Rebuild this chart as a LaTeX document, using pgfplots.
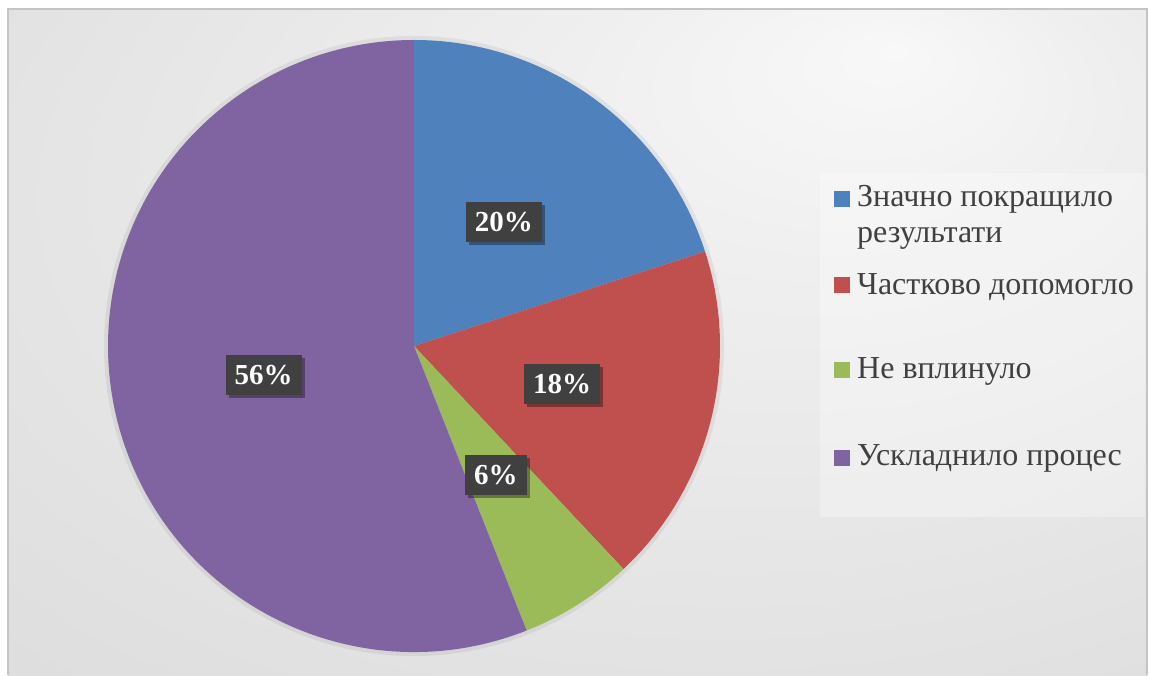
\documentclass[border=0pt]{standalone}
\usepackage{fontspec}
\setmainfont{Liberation Serif}
\usepackage{pgfplots}
\usepackage{pgfplotstable}
\pgfplotsset{compat=1.18}
\usetikzlibrary{shadows}

\definecolor{sliceA}{HTML}{4F81BD}
\definecolor{sliceB}{HTML}{C0504D}
\definecolor{sliceC}{HTML}{9BBB59}
\definecolor{sliceD}{HTML}{8064A2}
\definecolor{labelbg}{HTML}{404040}
\definecolor{legtext}{HTML}{404040}
\definecolor{framecol}{HTML}{C4C4C4}
\definecolor{bgA}{HTML}{F8F8F8}
\definecolor{bgB}{HTML}{EFEFEF}
\definecolor{bgC}{HTML}{E2E2E2}
\definecolor{bgD}{HTML}{D4D4D4}

\pgfdeclareradialshading{bgshade}{\pgfpoint{14bp}{22bp}}{%
  color(0bp)=(bgA); color(12bp)=(bgB); color(35bp)=(bgC); color(60bp)=(bgD)}

% share of answers, percent
\pgfplotstableread{
idx value
0 20
1 18
2 6
3 56
}\piedata

\pgfplotstablegetelem{0}{value}\of\piedata\edef\vA{\pgfplotsretval}
\pgfplotstablegetelem{1}{value}\of\piedata\edef\vB{\pgfplotsretval}
\pgfplotstablegetelem{2}{value}\of\piedata\edef\vC{\pgfplotsretval}
\pgfplotstablegetelem{3}{value}\of\piedata\edef\vD{\pgfplotsretval}

\pgfmathsetmacro\sA{90}
\pgfmathsetmacro\eA{\sA-3.6*\vA}
\pgfmathsetmacro\eB{\eA-3.6*\vB}
\pgfmathsetmacro\eC{\eB-3.6*\vC}
\pgfmathsetmacro\eD{\eC-3.6*\vD}
\pgfmathsetmacro\mA{(\sA+\eA)/2}
\pgfmathsetmacro\mB{(\eA+\eB)/2}
\pgfmathsetmacro\mC{(\eB+\eC)/2}
\pgfmathsetmacro\mD{(\eC+\eD)/2}

\tikzset{
  pielabel/.style={fill=labelbg, text=white,
    font=\bfseries\fontsize{29}{29}\selectfont,
    inner xsep=9pt, inner ysep=0pt, minimum height=40pt,
    drop shadow={shadow xshift=3pt, shadow yshift=-3pt, opacity=0.35, fill=black}},
  legtxt/.style={anchor=base west, inner sep=0pt, text=legtext,
    font=\fontsize{32}{36}\selectfont}
}

\begin{document}
\begin{tikzpicture}
\begin{axis}[
  x=1pt, y=1pt,
  xmin=0, xmax=1149, ymin=0, ymax=675,
  hide axis, clip=false,
  at={(0,0)}, anchor=south west,
]
% background and frame
\fill[shading=bgshade] (axis cs:8,0) rectangle (axis cs:1147,666);
\draw[framecol, line width=2pt] (axis cs:8,0) -- (axis cs:8,666) -- (axis cs:1147,666) -- (axis cs:1147,0);

% pie
\fill[black, opacity=0.06] (axis cs:414,329) circle[radius=310pt];
\fill[sliceA] (axis cs:414,329) -- ++(\sA:306pt) arc[start angle=\sA, end angle=\eA, radius=306pt] -- cycle;
\fill[sliceB] (axis cs:414,329) -- ++(\eA:306pt) arc[start angle=\eA, end angle=\eB, radius=306pt] -- cycle;
\fill[sliceC] (axis cs:414,329) -- ++(\eB:306pt) arc[start angle=\eB, end angle=\eC, radius=306pt] -- cycle;
\fill[sliceD] (axis cs:414,329) -- ++(\eC:306pt) arc[start angle=\eC, end angle=\eD, radius=306pt] -- cycle;

% data labels
\path (axis cs:414,329) ++(\mA:153pt) node[pielabel] {\vA\%};
\path (axis cs:414,329) ++(\mB:153pt) node[pielabel] {\vB\%};
\path (axis cs:414,329) ++(\mC:153pt) node[pielabel] {\vC\%};
\path (axis cs:414,329) ++(\mD:153pt) node[pielabel] {\vD\%};

% legend
\fill[white, opacity=0.3] (axis cs:820,158) rectangle (axis cs:1145,502);
\fill[sliceA] (axis cs:834,468) rectangle (axis cs:850,484);
\fill[sliceB] (axis cs:834,382) rectangle (axis cs:850,398);
\fill[sliceC] (axis cs:834,297) rectangle (axis cs:850,313);
\fill[sliceD] (axis cs:834,209) rectangle (axis cs:850,225);
\node[legtxt] at (axis cs:857,468) {Значно покращило};
\node[legtxt] at (axis cs:857,432) {результати};
\node[legtxt] at (axis cs:857,380) {Частково допомогло};
\node[legtxt] at (axis cs:857,296) {Не вплинуло};
\node[legtxt] at (axis cs:857,209) {Ускладнило процес};
\end{axis}
\pgfresetboundingbox
\path[use as bounding box] (0,0) rectangle (1149pt,675pt);
\end{tikzpicture}
\end{document}
